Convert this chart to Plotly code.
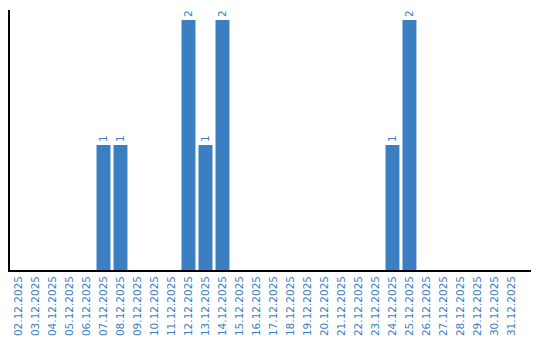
import plotly.graph_objects as go

dates = [f"{d:02d}.12.2025" for d in range(2, 32)]
counts = [0, 0, 0, 0, 0, 1, 1, 0, 0, 0, 2, 1, 2, 0, 0, 0, 0, 0, 0, 0, 0, 0, 1, 2, 0, 0, 0, 0, 0, 0]
labels = [str(c) if c > 0 else "" for c in counts]

color = "#3b7ec2"
fig = go.Figure(go.Bar(
    x=dates, y=counts, text=labels, textposition="outside", textangle=-90,
    textfont=dict(family="DejaVu Sans", size=10.5, color=color),
    marker=dict(color=color, line=dict(width=0)), cliponaxis=False,
))
fig.update_layout(
    width=540, height=340, margin=dict(l=10, r=9, t=10, b=70),
    plot_bgcolor="white", paper_bgcolor="white", bargap=0.18, showlegend=False,
    xaxis=dict(type="category", range=[-0.5, 30.15], showline=True, linecolor="black", linewidth=1.5,
               ticks="", tickangle=-90, automargin=False, ticklabelstandoff=0,
               tickfont=dict(family="DejaVu Sans", size=10.5, color=color),
               showgrid=False),
    yaxis=dict(range=[0, 2.08], showline=True, linecolor="black", linewidth=1.5, showticklabels=False,
               ticks="", showgrid=False, zeroline=False, automargin=False),
)
fig.write_html("out.html")
